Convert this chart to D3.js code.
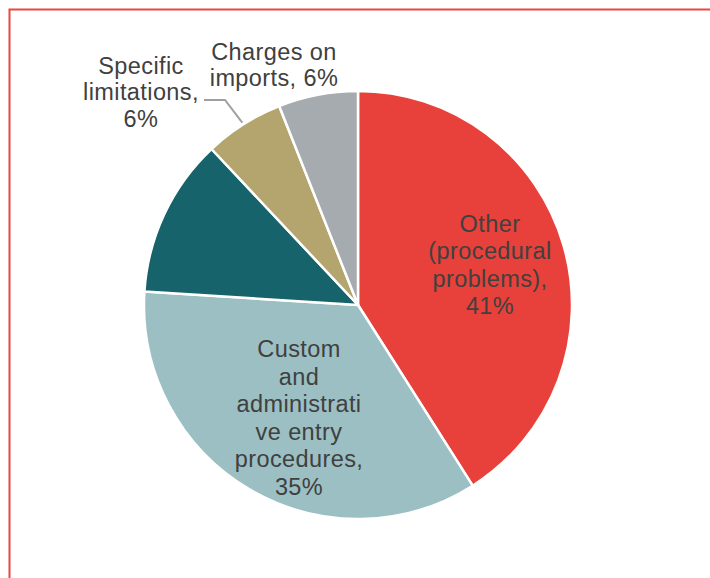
<!DOCTYPE html>
<html>
<head>
<meta charset="utf-8">
<script src="https://cdn.jsdelivr.net/npm/d3@7"></script>
<style>
  html, body { margin: 0; padding: 0; background: #fff; }
  svg text { font-family: "Liberation Sans", Arial, sans-serif; }
</style>
</head>
<body>
<svg id="chart" width="710" height="578"></svg>
<script>
// Shares of reported obstacles, clockwise from 12 o'clock
const categories = [
  "Other (procedural problems)",
  "Custom and administrative entry procedures",
  "Technical requirements",
  "Specific limitations",
  "Charges on imports"
];
const values = [41, 35, 12, 6, 6];
const colors = ["#E8403A", "#9BBFC3", "#17636C", "#B3A56D", "#A5ABAE"];

// Label lines as wrapped in the chart
const labelLines = [
  ["Other", "(procedural", "problems),", "41%"],
  ["Custom", "and", "administrati", "ve entry", "procedures,", "35%"],
  ["Technical", "requirements,", "12%"],
  ["Specific", "limitations,", "6%"],
  ["Charges on", "imports, 6%"]
];

const svg = d3.select("#chart");
const cx = 358, cy = 305, radius = 214;

// Frame lines on the top and left
svg.append("path")
  .attr("d", "M9.5,578 L9.5,9.5 L710,9.5")
  .attr("fill", "none")
  .attr("stroke", "#E8463E")
  .attr("stroke-width", 2);

const pie = d3.pie().sort(null).value(d => d.value);
const data = pie(categories.map((c, i) => ({ name: c, value: values[i], color: colors[i], lines: labelLines[i] })));

const arc = d3.arc().innerRadius(0).outerRadius(radius);
const g = svg.append("g").attr("transform", `translate(${cx},${cy})`);

g.selectAll("path.slice")
  .data(data)
  .join("path")
  .attr("class", "slice")
  .attr("d", arc)
  .attr("fill", d => d.data.color)
  .attr("stroke", "#fff")
  .attr("stroke-width", 2.5)
  .attr("stroke-linejoin", "round");

const fontSize = 23.5, lineH = 27.5;

// Label anchor positions (centre of the text block), by slice
const labelPos = [
  { x: 490, y: 265, fill: "#404040" },
  { x: 299, y: 418, fill: "#404040" },
  { x: 95,  y: 196, fill: "#FFFFFF" },
  { x: 141, y: 92,  fill: "#404040", lh: 26.5 },
  { x: 274, y: 65,  fill: "#404040", lh: 26 }
];

data.forEach((d, i) => {
  const p = labelPos[i];
  const lh = p.lh || lineH;
  const n = d.data.lines.length;
  const t = svg.append("text")
    .attr("text-anchor", "middle")
    .attr("font-size", fontSize)
    .attr("fill", p.fill)
    .attr("letter-spacing", 0.4);
  d.data.lines.forEach((line, k) => {
    t.append("tspan")
      .attr("x", p.x)
      .attr("y", p.y + (k - (n - 1) / 2) * lh)
      .attr("dy", "0.35em")
      .text(line);
  });
});

// Leader line from "Specific limitations" to the rim of its slice
const rim = d3.arc().innerRadius(radius + 2).outerRadius(radius + 2).centroid(data[3]);
svg.append("polyline")
  .attr("points", `204,100 225,100 ${cx + rim[0]},${cy + rim[1]}`)
  .attr("fill", "none")
  .attr("stroke", "#A0A0A0")
  .attr("stroke-width", 2);
</script>
</body>
</html>
